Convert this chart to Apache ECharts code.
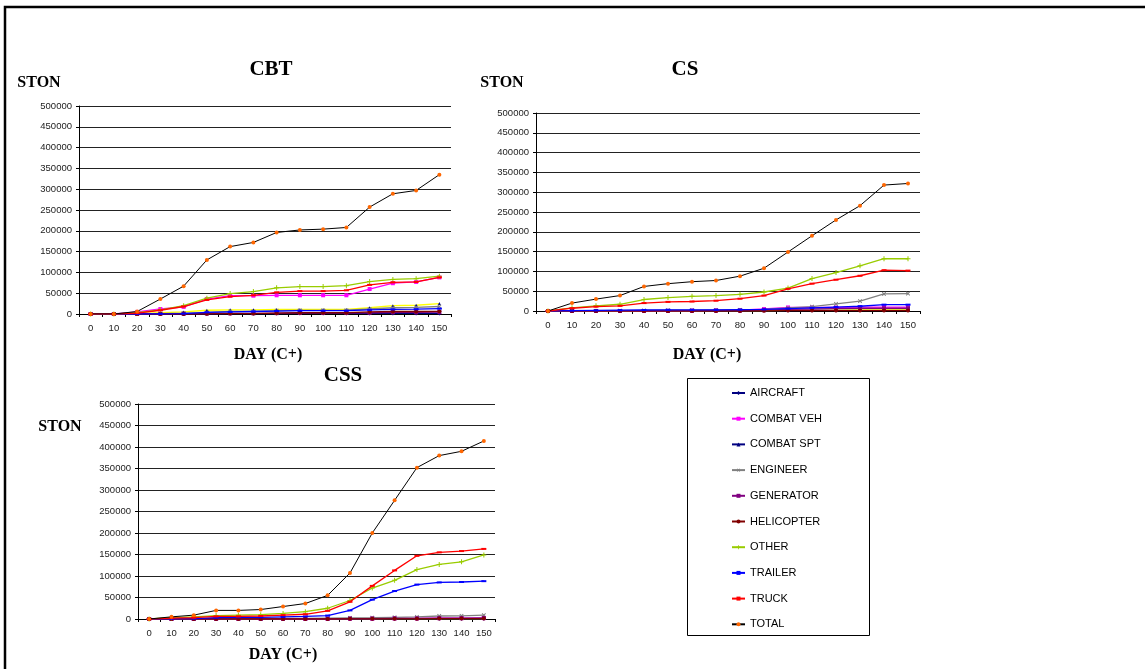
<!DOCTYPE html>
<html>
<head>
<meta charset="utf-8">
<script src="https://cdn.jsdelivr.net/npm/echarts@6/dist/echarts.min.js"></script>
<style>
  html, body { margin: 0; padding: 0; background: #fff; }
  #chart { width: 1145px; height: 669px; }
</style>
</head>
<body>
<div id="chart"></div>
<script>
// Day offsets after C-day (category axis)
const days = ['0','10','20','30','40','50','60','70','80','90','100','110','120','130','140','150'];

// Series in legend order
const seriesNames = ['AIRCRAFT','COMBAT VEH','COMBAT SPT','ENGINEER','GENERATOR','HELICOPTER','OTHER','TRAILER','TRUCK','TOTAL'];

// Value axis (short tons)
const yMin = 0, yMax = 500000, yStep = 50000;

// Cumulative short tons, one row per series (same order as seriesNames)
const cbtData = [
  [0,0,0,0,0,500,1000,1000,1000,1500,1500,1500,1500,1500,1500,1500],
  [0,0,5000,12000,17000,36000,44000,44000,45000,45000,45000,45000,60000,74000,77000,88000],
  [0,0,1000,3000,5000,9000,10000,10000,11000,11000,11000,11000,15000,20000,21000,25000],
  [0,0,0,1000,2000,4000,6000,6500,8000,8500,8500,9000,12000,15000,16000,18000],
  [0,0,0,500,500,1000,1500,1500,2000,2500,2500,2500,3000,4000,4000,4500],
  [0,0,0,0,0,500,1000,1000,2000,3000,3000,3000,5000,6000,6000,6500],
  [0,0,3000,10000,20000,38000,49000,54000,63000,66000,66000,68000,78000,83000,85000,91000],
  [0,0,0,500,1000,4000,5000,6000,7000,8000,8000,8000,10000,11000,11500,13000],
  [0,0,2000,9000,18000,34000,42000,45000,52000,55000,55000,57000,70000,76000,77000,88000],
  [0,0,6000,36000,67000,130000,162000,172000,196000,202000,204000,208000,257000,289000,297000,335000]
];

const csData = [
  [0,0,0,0,0,0,500,500,500,1000,1000,1500,1500,2000,2000,2000],
  [0,0,0,0,0,500,1000,1500,2000,5000,9000,9000,9000,10000,10000,10000],
  [0,0,0,0,500,500,500,1000,1000,1000,1500,1500,2000,2500,3000,3000],
  [0,500,500,1000,1500,2000,2000,2500,3000,4000,8000,11000,18000,25000,43000,44000],
  [0,0,0,0,0,0,500,1000,1000,2000,4000,5000,6000,7000,7000,7000],
  [0,0,0,0,0,0,0,0,0,500,1000,1000,1000,1000,1000,1000],
  [0,8000,13000,17000,29000,34000,37000,39000,42000,48000,58000,82000,97000,114000,132000,132000],
  [0,1000,1500,2000,2500,3000,3000,3000,3500,4000,6000,8000,10000,12000,16000,16000],
  [0,7000,11000,13000,20000,23000,24000,26000,31000,39000,56000,69000,79000,89000,103000,102000],
  [0,20000,30000,39000,62000,69000,74000,77000,88000,108000,149000,190000,230000,266000,318000,322000]
];

const cssData = [
  [0,0,0,0,0,0,0,0,0,0,500,500,500,500,500,500],
  [0,0,0,500,500,500,500,500,500,1000,1000,1500,1500,2000,2000,2000],
  [0,0,1000,1000,1000,1000,1000,1000,1000,1000,1000,1000,1000,1000,1000,1000],
  [0,0,0,1000,1000,1000,1500,1500,2000,2500,3000,4000,5000,7000,7500,9000],
  [0,0,0,500,500,500,500,500,500,1000,1000,1500,1500,2000,2000,2500],
  [0,0,0,0,0,0,0,0,0,500,500,500,500,1000,1000,1000],
  [0,3000,5000,8000,9000,10000,13000,17000,25000,43000,72000,90000,115000,127000,133000,149000],
  [0,500,1000,3000,4000,4000,5000,6000,8000,20000,45000,65000,80000,85000,86000,88000],
  [0,2000,3000,6000,6000,7000,9000,11000,19000,40000,77000,113000,147000,155000,158000,163000],
  [0,5000,9000,20000,20000,22000,29000,36000,55000,107000,200000,276000,352000,380000,390000,414000]
];

// Panel titles
const panelTitles = ['CBT', 'CS', 'CSS'];
const yAxisName = 'STON';
const xAxisName = 'DAY (C+)';

// Line / marker styling per series
const PLUS = 'path://M4,0H6V4H10V6H6V10H4V6H0V4H4Z';
const styles = [
  { line: '#000080', mark: '#000080', symbol: 'diamond', size: 4 },
  { line: '#FF00FF', mark: '#FF00FF', symbol: 'rect', size: 4 },
  { line: '#FFFF00', mark: '#000080', symbol: 'triangle', size: 3, legendLine: '#000080' },
  { line: '#808080', mark: '#808080', symbol: PLUS, size: 5, rotate: 45 },
  { line: '#800080', mark: '#800080', symbol: 'rect', size: 4 },
  { line: '#800000', mark: '#800000', symbol: 'circle', size: 4 },
  { line: '#99CC00', mark: '#99CC00', symbol: PLUS, size: 5 },
  { line: '#0000FF', mark: '#0000FF', symbol: 'rect', size: [5, 2] },
  { line: '#FF0000', mark: '#FF0000', symbol: 'rect', size: [5, 2] },
  { line: '#000000', mark: '#FF6600', symbol: 'circle', size: 4 }
];

const SANS = '"Liberation Sans", Arial, sans-serif';
const SERIF = '"Liberation Serif", "Times New Roman", serif';

const grids = [
  { left: 79, top: 106, width: 372, height: 208 },
  { left: 536, top: 113, width: 384, height: 198 },
  { left: 138, top: 404, width: 357, height: 215 }
];

function xAxisFor(i) {
  return {
    type: 'category', gridIndex: i, data: days, boundaryGap: true,
    axisLine: { lineStyle: { color: '#000', width: 1 } },
    axisTick: { show: true, length: 3, interval: 0, lineStyle: { color: '#000' } },
    axisLabel: { fontFamily: SANS, fontSize: 9.5, color: '#222', margin: 9, interval: 0 },
    splitLine: { show: false }
  };
}
function yAxisFor(i) {
  return {
    type: 'value', gridIndex: i, min: yMin, max: yMax, interval: yStep,
    axisLine: { show: true, lineStyle: { color: '#000', width: 1 } },
    axisTick: { show: true, length: 3, lineStyle: { color: '#000' } },
    axisLabel: { fontFamily: SANS, fontSize: 9.5, color: '#222', margin: 7,
                 formatter: v => String(v) },
    splitLine: { show: true, lineStyle: { color: '#222', width: 1 } }
  };
}

const panels = [cbtData, csData, cssData];
const series = [];
panels.forEach((rows, gi) => {
  rows.forEach((vals, si) => {
    const st = styles[si];
    series.push({
      name: seriesNames[si], type: 'line', xAxisIndex: gi, yAxisIndex: gi,
      data: vals, symbol: st.symbol, symbolSize: st.size, symbolRotate: st.rotate || 0,
      showAllSymbol: true, animation: false, z: 2 + si,
      lineStyle: { color: st.line, width: si === 9 ? 1 : 1.3 },
      itemStyle: { color: st.mark, borderWidth: 0 }
    });
  });
});

const legendData = seriesNames.map((n, i) => {
  const item = { name: n };
  if (styles[i].legendLine) item.lineStyle = { color: styles[i].legendLine };
  return item;
});

function text(x, y, str, font, size) {
  return {
    type: 'text', x: x, y: y, z: 10,
    style: { text: str, fontFamily: font, fontWeight: 'bold', fontSize: size, fill: '#000',
             align: 'center', verticalAlign: 'middle' }
  };
}

const option = {
  backgroundColor: '#fff',
  animation: false,
  grid: grids.map(g => Object.assign({ containLabel: false }, g)),
  xAxis: [0, 1, 2].map(xAxisFor),
  yAxis: [0, 1, 2].map(yAxisFor),
  legend: {
    data: legendData, orient: 'vertical', left: 731, top: 387, padding: 0,
    itemWidth: 13, itemHeight: 5, itemGap: 13.7,
    textStyle: { fontFamily: SANS, fontSize: 11, lineHeight: 12, color: '#000' },
    selectedMode: true
  },
  graphic: [
    // outer frame
    { type: 'rect', z: 20, shape: { x: 5, y: 7, width: 1300, height: 800 },
      style: { fill: 'none', stroke: '#000', lineWidth: 2.5 } },
    // legend box
    { type: 'rect', z: 5, shape: { x: 687.5, y: 378.5, width: 182, height: 257 },
      style: { fill: 'none', stroke: '#000', lineWidth: 1 } },
    text(271, 70, panelTitles[0], SERIF, 21),
    text(685, 70, panelTitles[1], SERIF, 21),
    text(343, 376, panelTitles[2], SERIF, 21),
    text(39, 83, yAxisName, SERIF, 16),
    text(502, 83, yAxisName, SERIF, 16),
    text(60, 427, yAxisName, SERIF, 16),
    text(268, 355, xAxisName, SERIF, 16),
    text(707, 355, xAxisName, SERIF, 16),
    text(283, 655, xAxisName, SERIF, 16)
  ],
  series: series
};

const chart = echarts.init(document.getElementById('chart'), null, { renderer: 'canvas' });
chart.setOption(option);
</script>
</body>
</html>
